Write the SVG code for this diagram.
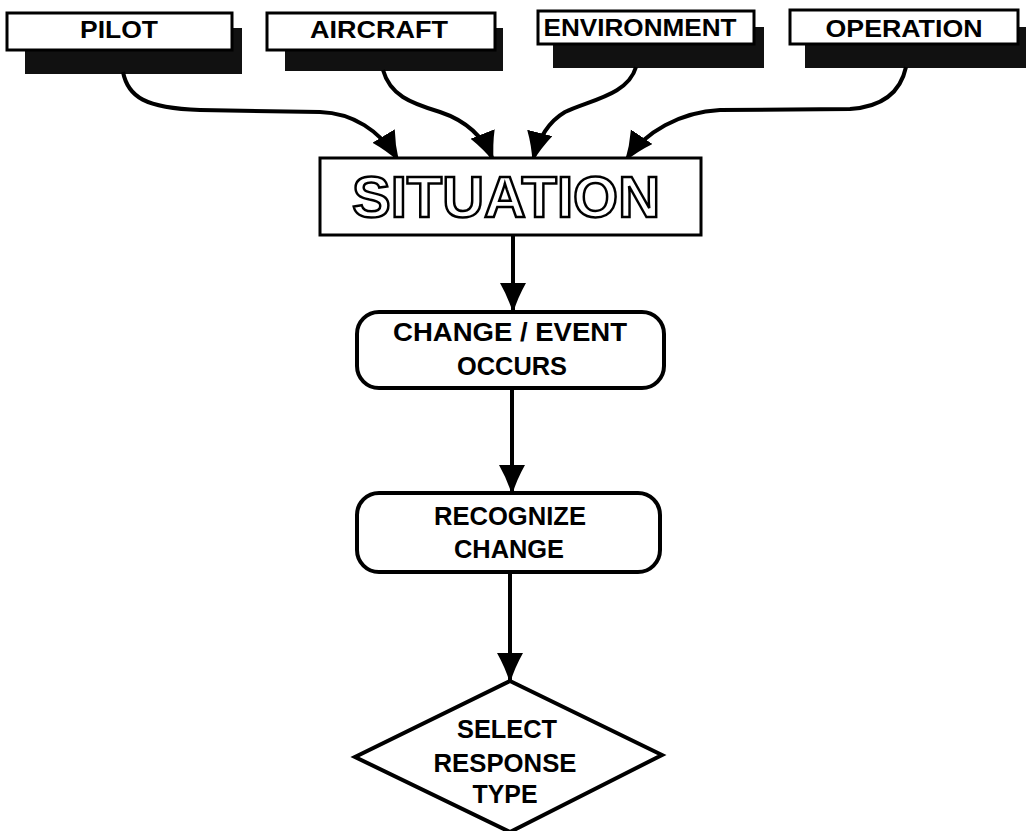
<svg xmlns="http://www.w3.org/2000/svg" width="1026" height="831" viewBox="0 0 1026 831">
<style>
.box{fill:#fff;stroke:#000;stroke-width:3}
.shadow{fill:#111}
.lbl{font-family:"Liberation Sans",Arial,sans-serif;font-weight:bold;fill:#000;text-anchor:middle}
.top{font-size:24px}
.mid{font-size:26px}
.node{fill:#fff;stroke:#000;stroke-width:4}
.conn{fill:none;stroke:#000;stroke-width:4}
.sit{font-family:"Liberation Sans",Arial,sans-serif;font-weight:bold;font-size:58px;fill:#fff;stroke:#000;stroke-width:2.5;text-anchor:middle}
</style>
<defs>
<marker id="ah" markerUnits="userSpaceOnUse" markerWidth="32" markerHeight="28" refX="28" refY="13" orient="auto" viewBox="0 0 32 28">
<path d="M0,0 Q14,8 30,13 Q14,18 0,26 Z" fill="#000"/>
</marker>
</defs>
<rect width="1026" height="831" fill="#fff"/>

<g id="pilot">
<rect class="shadow" x="25" y="28" width="217" height="46"/>
<rect class="box" x="7" y="13" width="225" height="37"/>
<text class="lbl top" x="119" y="38" textLength="78" lengthAdjust="spacingAndGlyphs">PILOT</text>
</g>
<g id="aircraft">
<rect class="shadow" x="285" y="28" width="218" height="43"/>
<rect class="box" x="267" y="13" width="228" height="37"/>
<text class="lbl top" x="379" y="38" textLength="138" lengthAdjust="spacingAndGlyphs">AIRCRAFT</text>
</g>
<g id="environment">
<rect class="shadow" x="553" y="27" width="211" height="41"/>
<rect class="box" x="538" y="11" width="216" height="33"/>
<text class="lbl top" x="640" y="36" textLength="193" lengthAdjust="spacingAndGlyphs">ENVIRONMENT</text>
</g>
<g id="operation">
<rect class="shadow" x="805" y="27" width="221" height="41"/>
<rect class="box" x="790" y="10" width="228" height="34"/>
<text class="lbl top" x="904" y="37" textLength="157" lengthAdjust="spacingAndGlyphs">OPERATION</text>
</g>

<g id="connectors">
<path class="conn" marker-end="url(#ah)" d="M123,72 C128,97 145,108 200,110 L320,112 C352,113 380,130 398,160"/>
<path class="conn" marker-end="url(#ah)" d="M383,70 C390,95 410,103 440,112 C470,122 485,140 493,160"/>
<path class="conn" marker-end="url(#ah)" d="M636,67 C628,95 590,100 565,112 C548,122 538,140 533,160"/>
<path class="conn" marker-end="url(#ah)" d="M906,67 C900,95 880,107 850,109 L720,110 C680,112 645,132 626,160"/>
<path class="conn" marker-end="url(#ah)" d="M513,235 L513,311"/>
<path class="conn" marker-end="url(#ah)" d="M512,388 L512,493"/>
<path class="conn" marker-end="url(#ah)" d="M510,572 L510,681"/>
</g>

<g id="situation">
<rect class="box" x="320" y="158" width="381" height="77"/>
<text class="sit" x="506" y="217" textLength="308" lengthAdjust="spacingAndGlyphs">SITUATION</text>
</g>
<g id="change">
<rect class="node" x="357" y="312" width="307" height="76" rx="22"/>
<text class="lbl mid" x="510" y="341" textLength="234" lengthAdjust="spacingAndGlyphs">CHANGE / EVENT</text>
<text class="lbl mid" x="512" y="375" textLength="110" lengthAdjust="spacingAndGlyphs">OCCURS</text>
</g>
<g id="recognize">
<rect class="node" x="357" y="493" width="303" height="79" rx="22"/>
<text class="lbl mid" x="510" y="525" textLength="152" lengthAdjust="spacingAndGlyphs">RECOGNIZE</text>
<text class="lbl mid" x="509" y="558" textLength="110" lengthAdjust="spacingAndGlyphs">CHANGE</text>
</g>
<g id="select">
<path class="node" stroke-width="5" d="M510,681 L662,755 L510,832 L355,757 Z"/>
<text class="lbl mid" x="507" y="738" textLength="100" lengthAdjust="spacingAndGlyphs">SELECT</text>
<text class="lbl mid" x="505" y="772" textLength="143" lengthAdjust="spacingAndGlyphs">RESPONSE</text>
<text class="lbl mid" x="505" y="803" textLength="65" lengthAdjust="spacingAndGlyphs">TYPE</text>
</g>
</svg>
